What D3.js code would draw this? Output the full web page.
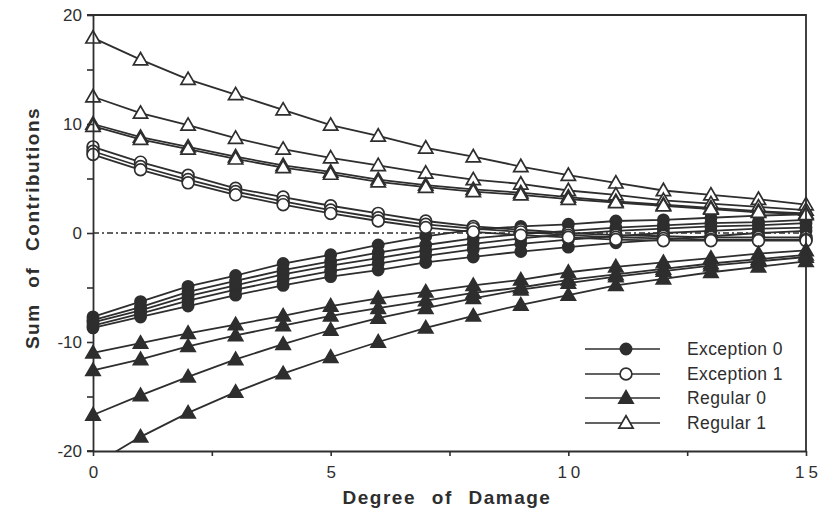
<!DOCTYPE html>
<html lang="en">
<head>
    <meta charset="UTF-8">
    <title>Sum of Contributions vs Degree of Damage</title>
    <script src="https://d3js.org/d3.v7.min.js"></script>
    <style>
        body { margin: 0; background: #fff; }
        text { font-family: "Liberation Sans", Arial, sans-serif; fill: #2e2e2e; }
    </style>
</head>
<body>

<script>
// degree of damage (x) and tick labels
const degrees = [0, 1, 2, 3, 4, 5, 6, 7, 8, 9, 10, 11, 12, 13, 14, 15];
const xTicks = [0, 5, 10, 15];
const yTicks = [-20, -10, 0, 10, 20];

// Exception 0 (filled circles)
const exception0 = [
    [-7.7, -6.3, -4.9, -3.9, -2.8, -2.0, -1.1, -0.3, 0.3, 0.6, 0.8, 1.1, 1.2, 1.4, 1.6, 1.7],
    [-8.0, -6.8, -5.4, -4.4, -3.4, -2.6, -1.8, -1.1, -0.5, -0.1, 0.2, 0.5, 0.7, 0.9, 1.0, 1.2],
    [-8.2, -7.1, -5.8, -4.8, -3.8, -3.0, -2.3, -1.6, -1.0, -0.5, -0.1, 0.2, 0.4, 0.6, 0.7, 0.9],
    [-8.5, -7.4, -6.2, -5.2, -4.3, -3.5, -2.8, -2.1, -1.5, -1.0, -0.6, -0.3, 0.0, 0.2, 0.4, 0.5],
    [-8.7, -7.7, -6.7, -5.7, -4.8, -4.0, -3.4, -2.7, -2.2, -1.7, -1.3, -0.9, -0.6, -0.3, 0.0, 0.2]
];

// Exception 1 (open circles)
const exception1 = [
    [7.9, 6.5, 5.3, 4.1, 3.3, 2.5, 1.8, 1.1, 0.6, 0.3, 0.0, -0.2, -0.3, -0.4, -0.4, -0.4],
    [7.5, 6.1, 4.9, 3.8, 2.9, 2.1, 1.4, 0.8, 0.4, 0.1, -0.2, -0.4, -0.5, -0.6, -0.6, -0.6],
    [7.2, 5.8, 4.6, 3.5, 2.6, 1.8, 1.1, 0.5, 0.1, -0.2, -0.4, -0.6, -0.7, -0.7, -0.7, -0.7]
];

// Regular 0 (filled triangles)
const regular0 = [
    [-11.0, -10.1, -9.2, -8.4, -7.6, -6.7, -6.0, -5.4, -4.8, -4.3, -3.6, -3.1, -2.7, -2.3, -1.9, -1.6],
    [-12.6, -11.6, -10.4, -9.4, -8.5, -7.6, -6.9, -6.2, -5.5, -5.0, -4.3, -3.8, -3.3, -2.8, -2.4, -2.0],
    [-16.7, -14.9, -13.2, -11.6, -10.2, -8.9, -7.8, -6.9, -6.0, -5.2, -4.6, -4.0, -3.5, -3.0, -2.6, -2.2],
    [-21.3, -18.7, -16.5, -14.6, -12.9, -11.4, -10.0, -8.7, -7.6, -6.6, -5.7, -4.8, -4.2, -3.6, -3.1, -2.6]
];

// Regular 1 (open triangles)
const regular1 = [
    [17.9, 15.9, 14.1, 12.7, 11.3, 9.9, 8.9, 7.8, 7.0, 6.1, 5.3, 4.6, 3.9, 3.5, 3.1, 2.6],
    [12.5, 11.0, 9.9, 8.7, 7.7, 6.9, 6.2, 5.5, 4.9, 4.5, 3.9, 3.5, 3.0, 2.7, 2.4, 2.1],
    [10.0, 8.8, 7.9, 7.0, 6.2, 5.6, 4.9, 4.4, 4.0, 3.7, 3.3, 2.9, 2.6, 2.3, 2.0, 1.8],
    [9.8, 8.6, 7.7, 6.8, 6.0, 5.4, 4.7, 4.2, 3.8, 3.5, 3.1, 2.8, 2.5, 2.2, 1.9, 1.7]
];

const seriesNames = ["Exception 0", "Exception 1", "Regular 0", "Regular 1"];

const ink = "#2e2e2e";
const width = 828, height = 509;
const plotLeft = 93, plotRight = 806, plotTop = 15, plotBottom = 451;

const svg = d3.select("body").append("svg")
    .attr("width", width)
    .attr("height", height);

const x = d3.scaleLinear().domain([0, 15]).range([plotLeft, plotRight]);
const y = d3.scaleLinear().domain([-20, 20]).range([plotBottom, plotTop]);

svg.append("clipPath").attr("id", "plot")
    .append("rect")
    .attr("x", plotLeft - 9).attr("y", plotTop)
    .attr("width", plotRight - plotLeft + 18).attr("height", plotBottom - plotTop);

// zero line, dash-dot
svg.append("line")
    .attr("x1", x(0)).attr("x2", x(15))
    .attr("y1", y(0)).attr("y2", y(0))
    .attr("stroke", ink)
    .attr("stroke-width", 1.5)
    .attr("stroke-dasharray", "6,3,2,3");

// marker shapes
const triangle = d3.symbol().type(d3.symbolTriangle).size(88);

function drawMarker(g, kind, cx, cy) {
    const filled = kind === 0 || kind === 2;
    if (kind < 2) {
        g.append("circle")
            .attr("cx", cx).attr("cy", cy)
            .attr("r", filled ? 5.6 : 5.9)
            .attr("fill", filled ? ink : "#fff")
            .attr("stroke", ink)
            .attr("stroke-width", 1.7);
    } else {
        g.append("path")
            .attr("d", triangle())
            .attr("transform", `translate(${cx},${cy + 1})`)
            .attr("fill", filled ? ink : "#fff")
            .attr("stroke", ink)
            .attr("stroke-width", 1.7);
    }
}

const line = d3.line()
    .x((d, i) => x(degrees[i]))
    .y(d => y(d));

const plot = svg.append("g").attr("clip-path", "url(#plot)");
const groups = [exception0, exception1, regular0, regular1];

groups.forEach((group, kind) => {
    group.forEach(vals => {
        plot.append("path")
            .datum(vals)
            .attr("d", line)
            .attr("fill", "none")
            .attr("stroke", ink)
            .attr("stroke-width", 1.8);
        vals.forEach((v, i) => drawMarker(plot, kind, x(degrees[i]), y(v)));
    });
});

// axes
const xAxis = svg.append("g")
    .attr("transform", `translate(0,${plotBottom})`)
    .call(d3.axisBottom(x).tickValues([0, 2.5, 5, 7.5, 10, 12.5, 15])
        .tickFormat(d => xTicks.includes(d) ? d : "")
        .tickSize(5).tickSizeOuter(0).tickPadding(10));

const yAxis = svg.append("g")
    .attr("transform", `translate(${plotLeft},0)`)
    .call(d3.axisLeft(y).tickValues([-20, -15, -10, -5, 0, 5, 10, 15, 20])
        .tickFormat(d => yTicks.includes(d) ? d : "")
        .tickSize(6).tickSizeOuter(0).tickPadding(5));

[xAxis, yAxis].forEach(a => {
    a.select(".domain").attr("stroke", ink).attr("stroke-width", 1.8);
    a.selectAll(".tick line").attr("stroke", ink).attr("stroke-width", 1.6);
    a.selectAll(".tick text").attr("font-size", 17).attr("fill", ink);
});
xAxis.selectAll(".tick text").attr("letter-spacing", 4).attr("dx", 2);

// frame (top and right)
svg.append("path")
    .attr("d", `M${plotLeft - 6},${plotTop}H${plotRight}V${plotBottom}`)
    .attr("fill", "none")
    .attr("stroke", ink)
    .attr("stroke-width", 1.8);
svg.append("line")
    .attr("x1", plotLeft - 6).attr("x2", plotLeft)
    .attr("y1", plotBottom).attr("y2", plotBottom)
    .attr("stroke", ink).attr("stroke-width", 1.8);

// axis titles
svg.append("text")
    .attr("x", 447).attr("y", 504)
    .attr("text-anchor", "middle")
    .attr("font-size", 19).attr("font-weight", "bold")
    .attr("letter-spacing", 1.5).attr("word-spacing", 9)
    .text("Degree of Damage");

svg.append("text")
    .attr("transform", "translate(39,228) rotate(-90)")
    .attr("text-anchor", "middle")
    .attr("font-size", 19).attr("font-weight", "bold")
    .attr("letter-spacing", 1.5).attr("word-spacing", 9)
    .text("Sum of Contributions");

// legend
const legend = svg.append("g");
const legendRows = [349, 374, 398, 423];
seriesNames.forEach((name, i) => {
    const ly = legendRows[i];
    legend.append("line")
        .attr("x1", 585).attr("x2", 660)
        .attr("y1", ly).attr("y2", ly)
        .attr("stroke", ink).attr("stroke-width", 1.7);
    drawMarker(legend, i, 626, ly);
    legend.append("text")
        .attr("x", 687).attr("y", ly + 6)
        .attr("font-size", 17.5).attr("letter-spacing", 0.4)
        .text(name);
});
</script>

</body>
</html>
